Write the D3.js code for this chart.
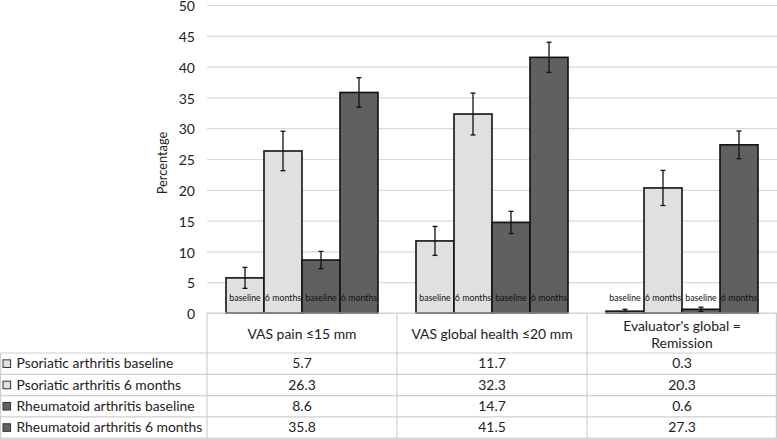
<!DOCTYPE html>
<html>
<head>
<meta charset="utf-8">
<script src="https://cdn.jsdelivr.net/npm/d3@7"></script>
<style>
  html, body { margin: 0; padding: 0; background: #fff; }
  svg { display: block; font-family: Lato, "Open Sans", sans-serif; }
</style>
</head>
<body>
<svg id="chart" width="777" height="439"></svg>
<script>
// ---- data ----
const categories = ["VAS pain \u226415 mm", "VAS global health \u226420 mm", "Evaluator's global = Remission"];
const categoryLines = [["VAS pain \u226415 mm"], ["VAS global health \u226420 mm"], ["Evaluator's global =", "Remission"]];
const seriesNames = ["Psoriatic arthritis baseline", "Psoriatic arthritis 6 months", "Rheumatoid arthritis baseline", "Rheumatoid arthritis 6 months"];
const barLabels = ["baseline", "6 months", "baseline", "6 months"];
const psaBaseline = [5.7, 11.7, 0.3];
const psa6Months = [26.3, 32.3, 20.3];
const raBaseline = [8.6, 14.7, 0.6];
const ra6Months = [35.8, 41.5, 27.3];
const psaBaselineErr = [1.7, 2.35, 0.3];
const psa6MonthsErr = [3.2, 3.4, 2.85];
const raBaselineErr = [1.4, 1.8, 0.35];
const ra6MonthsErr = [2.4, 2.45, 2.25];
const yTicks = [0, 5, 10, 15, 20, 25, 30, 35, 40, 45, 50];
const yTitle = "Percentage";

const seriesValues = [psaBaseline, psa6Months, raBaseline, ra6Months];
const seriesErrors = [psaBaselineErr, psa6MonthsErr, raBaselineErr, ra6MonthsErr];
const seriesColors = ["#e0e0e0", "#e0e0e0", "#606060", "#606060"];

// ---- layout ----
const svg = d3.select("#chart");
const plotLeft = 207, plotRight = 777, plotTop = 5, plotBottom = 313;
const tableRowTop = 353, rowH = 21.3;
const tableFont = 13.9;

const y = d3.scaleLinear().domain([0, 50]).range([plotBottom, plotTop]);
const x0 = d3.scaleBand().domain(categories).range([plotLeft, plotRight]);
const x1 = d3.scaleBand().domain(seriesNames).range([0, x0.bandwidth()]).paddingInner(0).paddingOuter(0.5);

svg.append("rect").attr("width", 777).attr("height", 439).attr("fill", "#fff");

// gridlines
const yAxis = d3.axisLeft(y).tickValues(yTicks).tickSize(-(plotRight - plotLeft)).tickPadding(12);
const gAxis = svg.append("g").attr("transform", `translate(${plotLeft},0)`).call(yAxis);
gAxis.select(".domain").remove();
gAxis.selectAll(".tick line").attr("stroke", "#d9d9d9").attr("stroke-width", 1.2);
gAxis.selectAll(".tick text").attr("font-size", 14).attr("fill", "#222").attr("font-family", "Lato, sans-serif")
  .attr("dy", "0.4em");

// y title
svg.append("text")
  .attr("transform", `translate(167,${(plotTop + plotBottom) / 2 + 4}) rotate(-90)`)
  .attr("text-anchor", "middle").attr("font-size", 12.8).attr("fill", "#222")
  .text(yTitle);

// bars
const data = [];
categories.forEach((c, ci) => {
  seriesNames.forEach((s, si) => {
    data.push({ c, s, si, v: seriesValues[si][ci], e: seriesErrors[si][ci] });
  });
});

const gBars = svg.append("g");
gBars.selectAll("rect").data(data).join("rect")
  .attr("x", d => x0(d.c) + x1(d.s))
  .attr("y", d => y(d.v))
  .attr("width", x1.bandwidth())
  .attr("height", d => y(0) - y(d.v))
  .attr("fill", d => seriesColors[d.si])
  .attr("stroke", "#111").attr("stroke-width", 1.6);

// bar labels
gBars.selectAll("text.bl").data(data).join("text").attr("class", "bl")
  .attr("x", d => x0(d.c) + x1(d.s) + x1.bandwidth() / 2)
  .attr("y", 301)
  .attr("text-anchor", "middle").attr("font-size", 8.8).attr("fill", "#111")
  .text(d => barLabels[d.si]);

// error bars
const gErr = svg.append("g").attr("stroke", "#111").attr("stroke-width", 1.3);
data.forEach(d => {
  const cx = x0(d.c) + x1(d.s) + x1.bandwidth() / 2;
  const y1 = y(d.v + d.e), y2 = y(d.v - d.e);
  gErr.append("line").attr("x1", cx).attr("x2", cx).attr("y1", y1).attr("y2", y2);
  gErr.append("line").attr("x1", cx - 2.5).attr("x2", cx + 2.5).attr("y1", y1).attr("y2", y1);
  gErr.append("line").attr("x1", cx - 2.5).attr("x2", cx + 2.5).attr("y1", y2).attr("y2", y2);
});

// ---- data table ----
const gT = svg.append("g");
const tableBottom = tableRowTop + rowH * seriesNames.length;
const lineColor = "#cfcfcf";
gT.append("line").attr("x1", plotLeft).attr("x2", plotRight).attr("y1", plotBottom).attr("y2", plotBottom)
  .attr("stroke", lineColor).attr("stroke-width", 1.2);
d3.range(seriesNames.length + 1).forEach(i => {
  const yy = tableRowTop + i * rowH;
  gT.append("line").attr("x1", 0).attr("x2", plotRight).attr("y1", yy).attr("y2", yy)
    .attr("stroke", lineColor).attr("stroke-width", 1.2);
});
gT.append("line").attr("x1", 0.6).attr("x2", 0.6).attr("y1", tableRowTop).attr("y2", tableBottom)
  .attr("stroke", lineColor).attr("stroke-width", 1.2);
categories.forEach(c => {
  gT.append("line").attr("x1", x0(c)).attr("x2", x0(c)).attr("y1", plotBottom).attr("y2", tableBottom)
    .attr("stroke", lineColor).attr("stroke-width", 1.2);
});
gT.append("line").attr("x1", plotRight - 0.6).attr("x2", plotRight - 0.6).attr("y1", plotBottom).attr("y2", tableBottom)
  .attr("stroke", lineColor).attr("stroke-width", 1.2);

// header text
categories.forEach((c, ci) => {
  const lines = categoryLines[ci];
  const cx = x0(c) + x0.bandwidth() / 2;
  const lh = 17;
  const midY = (plotBottom + tableRowTop) / 2 + 1;
  lines.forEach((ln, li) => {
    gT.append("text").attr("x", cx)
      .attr("y", midY + (li - (lines.length - 1) / 2) * lh + 5)
      .attr("text-anchor", "middle").attr("font-size", tableFont).attr("fill", "#222").text(ln);
  });
});

// rows
seriesNames.forEach((s, si) => {
  const cy = tableRowTop + si * rowH + rowH / 2;
  gT.append("rect").attr("x", 3).attr("y", cy - 3.8).attr("width", 7.6).attr("height", 7.6)
    .attr("fill", seriesColors[si]).attr("stroke", "#333").attr("stroke-width", 1);
  gT.append("text").attr("x", 16.5).attr("y", cy + 4.8).attr("font-size", tableFont).attr("fill", "#222").text(s);
  categories.forEach((c, ci) => {
    gT.append("text").attr("x", x0(c) + x0.bandwidth() / 2).attr("y", cy + 4.8)
      .attr("text-anchor", "middle").attr("font-size", tableFont).attr("fill", "#222")
      .text(seriesValues[si][ci].toFixed(1));
  });
});
</script>
</body>
</html>
